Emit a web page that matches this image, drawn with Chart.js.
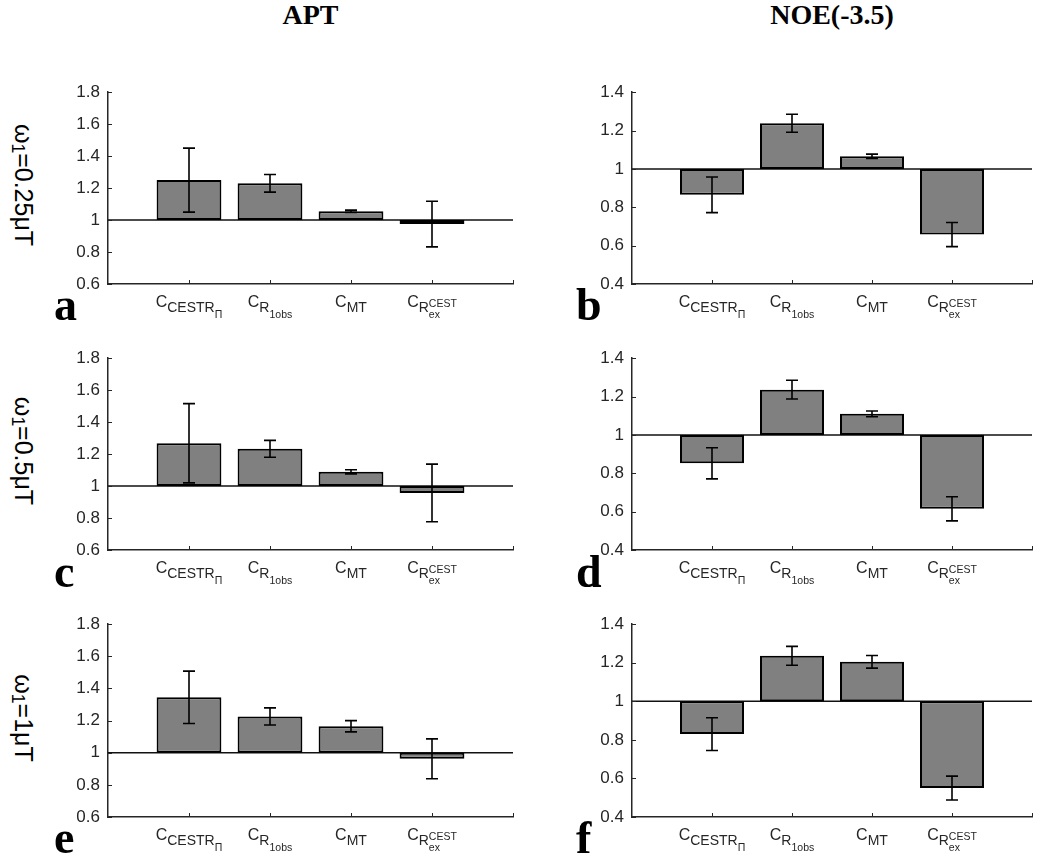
<!DOCTYPE html>
<html>
<head>
<meta charset="utf-8">
<script src="https://cdn.jsdelivr.net/npm/chart.js@4.4.1/dist/chart.umd.min.js"></script>
<style>
  body { margin: 0; background: #fff; }
  #fig { position: relative; width: 1050px; height: 865px; overflow: hidden; background: #fff; }
  #fig canvas { position: absolute; }
  .title { position: absolute; top: 1px; font: bold 28px 'Liberation Serif', serif; line-height: 1; transform: translateX(-50%); white-space: nowrap; }
  .letter { position: absolute; font: bold 46px 'Liberation Serif', serif; line-height: 1; }
  .rowlab { position: absolute; font: 25px 'Liberation Sans', Arial, sans-serif; line-height: 1; white-space: nowrap;
            transform: translate(-50%, -50%) rotate(90deg); }
  .rowlab sub { font-size: 0.7em; vertical-align: -0.2em; }
</style>
</head>
<body>
<div id="fig"></div>
<script>
// categories (tex-like: _ subscript, ^ superscript)
const categories = ['C_{CESTR_{Π}}', 'C_{R_{1obs}}', 'C_{MT}', 'C_{R_{ex}^{CEST}}'];
const columnTitles = ['APT', 'NOE(-3.5)'];
const rowLabels = ['0.25μT', '0.5μT', '1μT'];
const panelLetters = ['a', 'b', 'c', 'd', 'e', 'f'];

const aptTicks = [0.6, 0.8, 1, 1.2, 1.4, 1.6, 1.8];
const noeTicks = [0.4, 0.6, 0.8, 1, 1.2, 1.4];

// APT
const apt025 = [1.25, 1.23, 1.055, 0.975];
const apt025Err = [0.20, 0.055, 0.007, 0.143];
const apt05 = [1.268, 1.233, 1.089, 0.957];
const apt05Err = [0.248, 0.053, 0.013, 0.18];
const apt1 = [1.345, 1.226, 1.165, 0.962];
const apt1Err = [0.163, 0.053, 0.035, 0.124];

// NOE(-3.5)
const noe025 = [0.865, 1.238, 1.066, 0.658];
const noe025Err = [0.093, 0.047, 0.011, 0.063];
const noe05 = [0.852, 1.236, 1.11, 0.615];
const noe05Err = [0.081, 0.049, 0.015, 0.063];
const noe1 = [0.83, 1.236, 1.205, 0.55];
const noe1Err = [0.085, 0.049, 0.033, 0.062];

const panels = [
  { values: apt025, errors: apt025Err, ticks: aptTicks },
  { values: noe025, errors: noe025Err, ticks: noeTicks },
  { values: apt05,  errors: apt05Err,  ticks: aptTicks },
  { values: noe05,  errors: noe05Err,  ticks: noeTicks },
  { values: apt1,   errors: apt1Err,   ticks: aptTicks },
  { values: noe1,   errors: noe1Err,   ticks: noeTicks }
];

// layout in page pixels
const colAxis = [108, 632];
const colEnd = [513, 1032];
const rowTop = [86, 352, 618];
const rowBottom = [284, 550, 817];
const letterX = [54, 576];
const letterBase = [320, 587, 853];
const AXW = 70, PADT = 12, PADR = 12, XH = 45;
const axisColor = '#262626';

const fig = document.getElementById('fig');

columnTitles.forEach((t, c) => {
  const d = document.createElement('div');
  d.className = 'title';
  d.textContent = t;
  d.style.left = ((colAxis[c] + colEnd[c]) / 2) + 'px';
  fig.appendChild(d);
});

rowLabels.forEach((t, r) => {
  const d = document.createElement('div');
  d.className = 'rowlab';
  d.innerHTML = 'ω<sub>1</sub>=' + t;
  d.style.left = '22px';
  d.style.top = ((rowTop[r] + rowBottom[r]) / 2) + 'px';
  fig.appendChild(d);
});

// --- tiny tex parser for tick labels ---
function readGroup(s, i) {
  if (s[i] === '{') {
    let depth = 1, j = i + 1;
    while (j < s.length && depth) { if (s[j] === '{') depth++; else if (s[j] === '}') depth--; j++; }
    return [s.slice(i + 1, j - 1), j];
  }
  return [s[i], i + 1];
}
function parseTex(s) {
  const nodes = [];
  let i = 0;
  while (i < s.length) {
    const ch = s[i];
    if (ch === '_' || ch === '^') {
      const [g, j] = readGroup(s, i + 1);
      const last = nodes[nodes.length - 1];
      last[ch === '_' ? 'sub' : 'sup'] = parseTex(g);
      i = j;
    } else {
      const last = nodes[nodes.length - 1];
      if (last && !last.sub && !last.sup) last.text += ch;
      else nodes.push({ text: ch });
      i++;
    }
  }
  return nodes;
}
const texSize = [16, 14, 10.5];
const subShift = [4.5, 6.5, 4];
const supShift = [0, 9, 5];
function texFont(l) { return texSize[Math.min(l, 2)] + "px 'Liberation Sans', Arial, sans-serif"; }
function texWidth(ctx, nodes, l) {
  let w = 0;
  nodes.forEach(n => {
    ctx.font = texFont(l);
    w += ctx.measureText(n.text).width;
    const ws = n.sub ? texWidth(ctx, n.sub, l + 1) : 0;
    const wp = n.sup ? texWidth(ctx, n.sup, l + 1) : 0;
    w += Math.max(ws, wp);
  });
  return w;
}
function texDraw(ctx, nodes, l, x, y) {
  nodes.forEach(n => {
    ctx.font = texFont(l);
    ctx.fillText(n.text, x, y);
    x += ctx.measureText(n.text).width;
    let ws = 0, wp = 0;
    if (n.sub) ws = texDraw(ctx, n.sub, l + 1, x, y + subShift[Math.min(l, 2)]) - x;
    if (n.sup) wp = texDraw(ctx, n.sup, l + 1, x, y - supShift[Math.min(l + 1, 2)]) - x;
    x += Math.max(ws, wp);
  });
  return x;
}
const parsedLabels = categories.map(parseTex);

// plugin: baseline at 1, inward ticks, error bars, tex tick labels
const panelDecor = {
  id: 'panelDecor',
  beforeDatasetsDraw(chart) {
    const { ctx, chartArea } = chart;
    const y = chart.scales.y.getPixelForValue(1);
    ctx.save();
    ctx.strokeStyle = '#111';
    ctx.lineWidth = 1.5;
    ctx.beginPath();
    ctx.moveTo(chartArea.left, y);
    ctx.lineTo(chartArea.right, y);
    ctx.stroke();
    ctx.restore();
  },
  afterDatasetsDraw(chart) {
    const { ctx, chartArea } = chart;
    const xs = chart.scales.x, ys = chart.scales.y;
    const p = chart.options.plugins.panelDecor;
    ctx.save();
    // error bars
    ctx.strokeStyle = '#000';
    ctx.lineWidth = 1.6;
    const meta = chart.getDatasetMeta(0);
    p.values.forEach((v, i) => {
      const el = meta.data[i + 1];
      const x = el.x;
      const yHi = ys.getPixelForValue(v + p.errors[i]);
      const yLo = ys.getPixelForValue(v - p.errors[i]);
      ctx.beginPath();
      ctx.moveTo(x, yHi); ctx.lineTo(x, yLo);
      ctx.moveTo(x - 6, yHi); ctx.lineTo(x + 6, yHi);
      ctx.moveTo(x - 6, yLo); ctx.lineTo(x + 6, yLo);
      ctx.stroke();
    });
    // inward ticks
    ctx.strokeStyle = axisColor;
    ctx.lineWidth = 1;
    ctx.beginPath();
    ys.ticks.forEach(t => {
      const y = Math.round(ys.getPixelForValue(t.value)) + 0.5;
      ctx.moveTo(chartArea.left, y); ctx.lineTo(chartArea.left + 4, y);
    });
    for (let i = 1; i < xs.ticks.length; i++) {
      const x = Math.round(xs.getPixelForValue(i)) + 0.5;
      ctx.moveTo(x, chartArea.bottom); ctx.lineTo(x, chartArea.bottom - 4);
    }
    ctx.stroke();
    // category labels
    ctx.fillStyle = axisColor;
    ctx.textBaseline = 'alphabetic';
    ctx.textAlign = 'left';
    parsedLabels.forEach((nodes, i) => {
      const x = xs.getPixelForValue(i + 1);
      const w = texWidth(ctx, nodes, 0);
      texDraw(ctx, nodes, 0, x - w / 2, chartArea.bottom + 23);
    });
    ctx.restore();
  }
};

panels.forEach((p, k) => {
  const r = Math.floor(k / 2), c = k % 2;
  const plotW = colEnd[c] - colAxis[c];
  const plotH = rowBottom[r] - rowTop[r];
  const cv = document.createElement('canvas');
  cv.width = plotW + AXW + PADR;
  cv.height = plotH + PADT + XH;
  cv.style.left = (colAxis[c] - AXW) + 'px';
  cv.style.top = (rowTop[r] - PADT) + 'px';
  fig.appendChild(cv);

  const lt = document.createElement('div');
  lt.className = 'letter';
  lt.textContent = panelLetters[k];
  lt.style.left = letterX[c] + 'px';
  lt.style.top = (letterBase[r] - 38.5) + 'px';
  fig.appendChild(lt);

  new Chart(cv, {
    type: 'bar',
    data: {
      labels: ['', ...categories, ''],
      datasets: [{
        data: [null, ...p.values.map(v => [1, v]), null],
        backgroundColor: '#808080',
        borderColor: '#000',
        borderWidth: 2,
        borderSkipped: false,
        barPercentage: 1,
        categoryPercentage: 0.8
      }]
    },
    options: {
      responsive: false,
      animation: false,
      layout: { padding: { top: PADT, right: PADR, left: 0, bottom: 0 } },
      plugins: {
        legend: { display: false },
        tooltip: { enabled: false },
        panelDecor: { values: p.values, errors: p.errors }
      },
      scales: {
        x: {
          type: 'category',
          offset: false,
          grid: { display: false, drawTicks: false },
          border: { display: true, color: axisColor, width: 1.5 },
          ticks: { display: false },
          afterFit: s => { s.height = XH; }
        },
        y: {
          min: p.ticks[0],
          max: p.ticks[p.ticks.length - 1],
          grid: { display: false, drawTicks: false },
          border: { display: true, color: axisColor, width: 1.5 },
          afterBuildTicks: s => { s.ticks = p.ticks.map(v => ({ value: v })); },
          ticks: {
            padding: 8,
            color: axisColor,
            font: { family: "'Liberation Sans', Arial, sans-serif", size: 17 },
            callback: v => String(Math.round(v * 10) / 10)
          },
          afterFit: s => { s.width = AXW; }
        }
      }
    },
    plugins: [panelDecor]
  });
});
</script>
</body>
</html>
